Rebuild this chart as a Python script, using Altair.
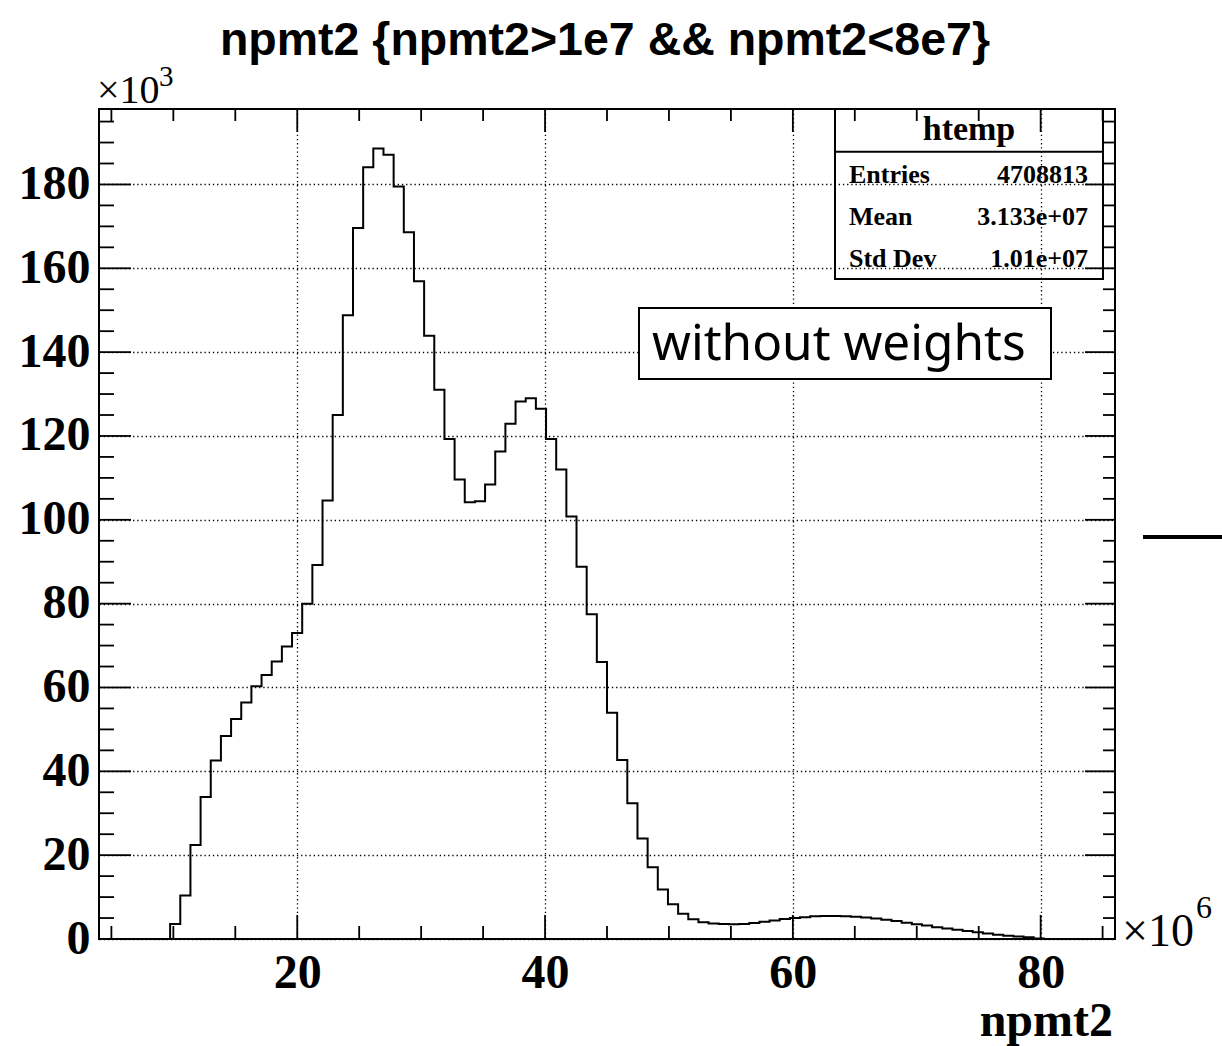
import altair as alt
import numpy as np
import pandas as pd

# ---------------- data ----------------
X_MIN, X_MAX, N_BINS = 4.0, 86.0, 100          # histogram range (x 1e6) and bin count
Y_MAX = 198.0                                    # y range (x 1e3)

counts = (
    [0.0] * 7
    + [3.6, 10.4, 22.4, 33.9, 42.6, 48.4, 52.5, 56.4, 60.3, 63.0, 66.2, 69.8, 73.0,
       80.0, 89.2, 104.6, 125.0, 148.8, 169.6, 184.1, 188.6, 187.1, 179.5, 168.6,
       156.9, 143.9, 131.0, 119.3, 109.6, 104.2, 104.4, 108.4, 116.3, 122.9, 128.2,
       129.0, 126.5, 119.3, 112.0, 100.8, 88.8, 77.5, 66.1, 54.0, 42.7, 32.4, 24.0,
       17.1, 11.8, 8.3, 6.0, 4.7, 4.0]
    + [3.7, 3.6, 3.5, 3.6, 3.8, 4.1, 4.4, 4.8, 5.0, 5.2, 5.4, 5.5, 5.5, 5.4, 5.3,
       5.1, 4.9, 4.6, 4.3, 3.9, 3.5, 3.2, 2.8, 2.5, 2.2, 1.9, 1.6, 1.3, 1.0, 0.8,
       0.6, 0.4, 0.1]
    + [0.0] * 7
)

y_major = [0, 20, 40, 60, 80, 100, 120, 140, 160, 180]
y_minor_all = list(range(0, 196, 5))
x_major = [20, 40, 60, 80]
x_minor_all = list(range(5, 86, 5))

title_text = "npmt2 {npmt2>1e7 && npmt2<8e7}"
x_title = "npmt2"
stat_title = "htemp"
stat_labels = ["Entries", "Mean", "Std Dev"]
stat_values = ["4708813", "3.133e+07", "1.01e+07"]
note_text = "without weights"

# ---------------- layout ----------------
W, H = 1016, 830
SERIF = "Liberation Serif"
SANS = "Liberation Sans"

edges = np.linspace(X_MIN, X_MAX, N_BINS + 1)
hist = pd.DataFrame({"x": edges, "y": counts + [counts[-1]]})

xs = alt.Scale(domain=[X_MIN, X_MAX], nice=False, zero=False)
ys = alt.Scale(domain=[0, Y_MAX], nice=False, zero=True)

grid_kw = dict(grid=True, gridDash=[1.3, 2.9], gridColor="black", gridWidth=1.3,
               ticks=False, domain=False, title=None, labelFont=SERIF,
               labelFontWeight="bold", labelFontSize=48, labelColor="black", format="d")
x_axis = alt.Axis(values=x_major, labelPadding=10, **grid_kw)
y_axis = alt.Axis(values=y_major, labelPadding=9, **grid_kw)

histo = alt.Chart(hist).mark_line(interpolate="step-after", color="black",
                                  strokeWidth=2).encode(
    x=alt.X("x:Q", scale=xs, axis=x_axis),
    y=alt.Y("y:Q", scale=ys, axis=y_axis),
)

one = pd.DataFrame({"a": [0]})

# note box (white fill hides grid) drawn above grid
note_box = alt.Chart(one).mark_rect(fill="white", stroke="black", strokeWidth=2).encode(
    x=alt.value(540), x2=alt.value(952), y=alt.value(199), y2=alt.value(270))
note = alt.Chart(one).mark_text(align="left", baseline="alphabetic", font="Noto Sans",
                                fontSize=49.5, color="black").encode(
    x=alt.value(553), y=alt.value(251), text=alt.value(note_text))

# ticks
xmaj = pd.DataFrame({"x": x_major})
xmin = pd.DataFrame({"x": [v for v in x_minor_all if v not in x_major]})
ymaj = pd.DataFrame({"y": y_major[1:]})
ymin = pd.DataFrame({"y": [v for v in y_minor_all if v not in y_major]})
TW = 1.8
XQ = alt.X("x:Q", scale=xs, axis=x_axis)
YQ = alt.Y("y:Q", scale=ys, axis=y_axis)
ticks = [
    alt.Chart(xmin).mark_rule(color="black", strokeWidth=TW).encode(
        x=XQ, y=alt.value(H), y2=alt.value(H - 13)),
    alt.Chart(xmin).mark_rule(color="black", strokeWidth=TW).encode(
        x=XQ, y=alt.value(0), y2=alt.value(12)),
    alt.Chart(xmaj).mark_rule(color="black", strokeWidth=TW).encode(
        x=XQ, y=alt.value(H), y2=alt.value(H - 24)),
    alt.Chart(xmaj).mark_rule(color="black", strokeWidth=TW).encode(
        x=XQ, y=alt.value(0), y2=alt.value(23)),
    alt.Chart(ymin).mark_rule(color="black", strokeWidth=TW).encode(
        y=YQ, x=alt.value(0), x2=alt.value(15)),
    alt.Chart(ymin).mark_rule(color="black", strokeWidth=TW).encode(
        y=YQ, x=alt.value(W), x2=alt.value(W - 12)),
    alt.Chart(ymaj).mark_rule(color="black", strokeWidth=TW).encode(
        y=YQ, x=alt.value(0), x2=alt.value(32)),
    alt.Chart(ymaj).mark_rule(color="black", strokeWidth=TW).encode(
        y=YQ, x=alt.value(W), x2=alt.value(W - 30)),
]

# stats box
stat_box = alt.Chart(one).mark_rect(fillOpacity=0, stroke="black", strokeWidth=2).encode(
    x=alt.value(736), x2=alt.value(1004), y=alt.value(0), y2=alt.value(170))
stat_sep = alt.Chart(one).mark_rule(color="black", strokeWidth=2).encode(
    x=alt.value(736), x2=alt.value(1004), y=alt.value(42.7))
stat_head = alt.Chart(one).mark_text(align="center", baseline="alphabetic", font=SERIF,
                                     fontWeight="bold", fontSize=34, color="black").encode(
    x=alt.value(870), y=alt.value(31), text=alt.value(stat_title))
stat_rows = []
for i, (lab, val) in enumerate(zip(stat_labels, stat_values)):
    yy = 74 + i * 41.8
    stat_rows.append(alt.Chart(one).mark_text(align="left", baseline="alphabetic", font=SERIF,
                                              fontWeight="bold", fontSize=26, color="black").encode(
        x=alt.value(750), y=alt.value(yy), text=alt.value(lab)))
    stat_rows.append(alt.Chart(one).mark_text(align="right", baseline="alphabetic", font=SERIF,
                                              fontWeight="bold", fontSize=26, color="black").encode(
        x=alt.value(989), y=alt.value(yy), text=alt.value(val)))

# titles and exponents
title = alt.Chart(one).mark_text(align="center", baseline="alphabetic", font=SANS,
                                 fontWeight="bold", fontSize=46.5, color="black").encode(
    x=alt.value(506), y=alt.value(-54), text=alt.value(title_text))
xlab = alt.Chart(one).mark_text(align="right", baseline="alphabetic", font=SERIF,
                                fontWeight="bold", fontSize=48, color="black").encode(
    x=alt.value(1014), y=alt.value(927), text=alt.value(x_title))
yexp = alt.Chart(one).mark_text(align="left", baseline="alphabetic", font=SERIF,
                                fontSize=40, color="black").encode(
    x=alt.value(-2), y=alt.value(-6), text=alt.value("×10"))
yexp_s = alt.Chart(one).mark_text(align="left", baseline="alphabetic", font=SERIF,
                                  fontSize=29, color="black").encode(
    x=alt.value(60), y=alt.value(-23), text=alt.value("3"))
xexp = alt.Chart(one).mark_text(align="left", baseline="alphabetic", font=SERIF,
                                fontSize=46, color="black").encode(
    x=alt.value(1023), y=alt.value(837), text=alt.value("×10"))
xexp_s = alt.Chart(one).mark_text(align="left", baseline="alphabetic", font=SERIF,
                                  fontSize=32, color="black").encode(
    x=alt.value(1097), y=alt.value(809), text=alt.value("6"))

# stray legend line at right edge of the picture
stray = alt.Chart(one).mark_rule(color="black", strokeWidth=4).encode(
    x=alt.value(1044), x2=alt.value(1125), y=alt.value(428))

chart = alt.layer(
    histo, note_box, note, *ticks, stat_box, stat_sep, stat_head, *stat_rows,
    title, xlab, yexp, yexp_s, xexp, xexp_s, stray,
).properties(
    width=W, height=H,
    padding={"left": 99, "top": 109, "right": 107, "bottom": 107},
    autosize=alt.AutoSizeParams(type="none"),
    background="white",
).configure_view(stroke="black", strokeWidth=2)

chart.save("out.html", embed_options={"renderer": "svg", "actions": False})
